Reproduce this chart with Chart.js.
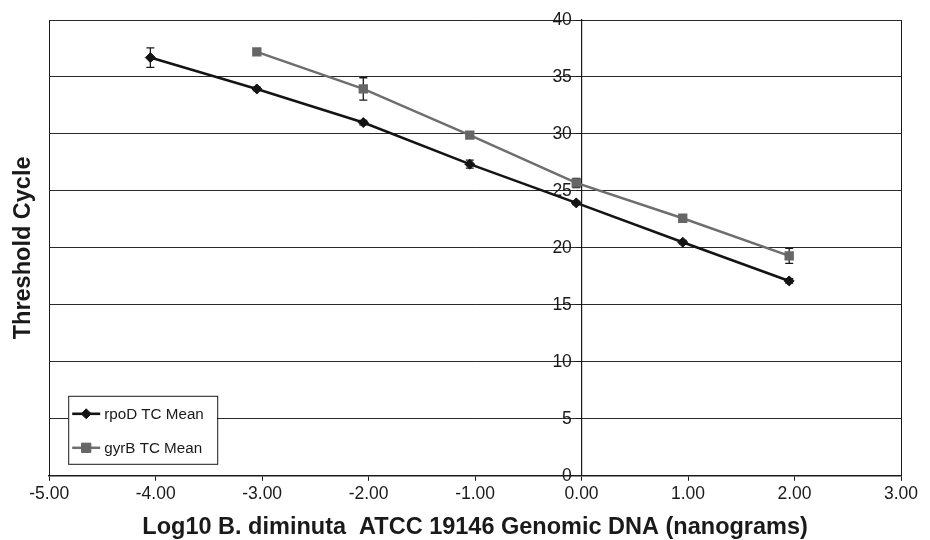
<!DOCTYPE html>
<html>
<head>
<meta charset="utf-8">
<script src="https://cdn.jsdelivr.net/npm/chart.js@4.4.0/dist/chart.umd.min.js"></script>
<style>
  html, body { margin: 0; padding: 0; background: #fff; }
</style>
</head>
<body>
<canvas id="tcChart" width="930" height="540"></canvas>
<script>
// valores
const logDna = [-4.05, -3.05, -2.05, -1.05, -0.05, 0.95, 1.95];
const rpoDMean = [36.7, 33.95, 31.0, 27.35, 23.95, 20.5, 17.1];
const rpoDErr = [0.85, 0.15, 0.2, 0.35, 0.15, 0.15, 0.2];
const gyrBDna = [-3.05, -2.05, -1.05, -0.05, 0.95, 1.95];
const gyrBMean = [37.2, 33.95, 29.9, 25.7, 22.6, 19.3];
const gyrBErr = [0.15, 0.98, 0.2, 0.4, 0.2, 0.65];
const xTicks = [-5, -4, -3, -2, -1, 0, 1, 2, 3];
const yTicks = [0, 5, 10, 15, 20, 25, 30, 35, 40];

const fontFamily = '"Liberation Sans", Arial, Helvetica, sans-serif';
const ink = '#1a1a1a';

const toPoints = (xs, ys) => xs.map((x, i) => ({ x: x, y: ys[i] }));

// barras de error, dibujadas con las escalas del gráfico
const errorBars = {
    id: 'errorBars',
    beforeDatasetsDraw(chart) {
        const ctx = chart.ctx;
        const xs = chart.scales.x;
        const ys = chart.scales.y;
        ctx.save();
        ctx.strokeStyle = ink;
        ctx.lineWidth = 1.3;
        chart.data.datasets.forEach(ds => {
            ds.data.forEach((p, i) => {
                const e = ds.errors[i];
                const px = xs.getPixelForValue(p.x);
                const top = ys.getPixelForValue(p.y + e);
                const bot = ys.getPixelForValue(p.y - e);
                ctx.beginPath();
                ctx.moveTo(px, top);
                ctx.lineTo(px, bot);
                ctx.moveTo(px - 4, top);
                ctx.lineTo(px + 4, top);
                ctx.moveTo(px - 4, bot);
                ctx.lineTo(px + 4, bot);
                ctx.stroke();
            });
        });
        ctx.restore();
    }
};

// leyenda dentro del área, abajo a la izquierda
const boxLegend = {
    id: 'boxLegend',
    afterDraw(chart) {
        const ctx = chart.ctx;
        const area = chart.chartArea;
        const left = area.left + 19;
        const top = area.bottom - 80;
        const w = 149, h = 68;
        ctx.save();
        ctx.fillStyle = '#fff';
        ctx.fillRect(left, top, w, h);
        ctx.strokeStyle = ink;
        ctx.lineWidth = 1;
        ctx.strokeRect(left + 0.5, top + 0.5, w, h);
        ctx.font = '15.2px ' + fontFamily;
        ctx.textBaseline = 'middle';
        chart.data.datasets.forEach((ds, i) => {
            const cy = top + 18 + i * 34;
            ctx.strokeStyle = ds.borderColor;
            ctx.lineWidth = ds.borderWidth;
            ctx.beginPath();
            ctx.moveTo(left + 4, cy);
            ctx.lineTo(left + 32, cy);
            ctx.stroke();
            ctx.fillStyle = ds.pointBackgroundColor;
            ctx.strokeStyle = ds.pointBorderColor;
            ctx.lineWidth = 1;
            Chart.helpers.drawPoint(ctx, { pointStyle: ds.pointStyle, radius: ds.pointRadius, borderWidth: 1 }, left + 18, cy);
            ctx.fillStyle = ink;
            ctx.fillText(ds.label, left + 36, cy + 1);
        });
        ctx.restore();
    }
};

const ctx = document.getElementById('tcChart').getContext('2d');
new Chart(ctx, {
    type: 'line',
    data: {
        datasets: [
            {
                label: 'rpoD TC Mean',
                data: toPoints(logDna, rpoDMean),
                errors: rpoDErr,
                borderColor: '#141414',
                borderWidth: 2.6,
                pointStyle: 'rectRot',
                pointRadius: 5,
                pointBackgroundColor: '#141414',
                pointBorderColor: '#141414',
                pointBorderWidth: 1,
                fill: false,
                tension: 0
            },
            {
                label: 'gyrB TC Mean',
                data: toPoints(gyrBDna, gyrBMean),
                errors: gyrBErr,
                borderColor: '#6e6e6e',
                borderWidth: 2.5,
                pointStyle: 'rect',
                pointRadius: 6.6,
                pointBackgroundColor: '#666666',
                pointBorderColor: '#666666',
                pointBorderWidth: 0,
                fill: false,
                tension: 0
            }
        ]
    },
    options: {
        responsive: false,
        animation: false,
        devicePixelRatio: 1,
        layout: { padding: { top: 20, right: 29, bottom: 0, left: 0 } },
        plugins: {
            legend: { display: false },
            tooltip: { enabled: false }
        },
        scales: {
            x: {
                type: 'linear',
                min: -5,
                max: 3,
                afterBuildTicks: axis => { axis.ticks = xTicks.map(v => ({ value: v })); },
                ticks: {
                    color: ink,
                    padding: 3,
                    maxRotation: 0,
                    autoSkip: false,
                    font: { family: fontFamily, size: 17.5 },
                    callback: v => Number(v).toFixed(2)
                },
                grid: {
                    color: c => (c.tick && (c.tick.value === -5 || c.tick.value === 3)) ? ink : 'rgba(0,0,0,0)',
                    tickColor: ink,
                    tickLength: 5,
                    lineWidth: 1
                },
                border: { color: ink, width: 1.5 },
                title: {
                    display: true,
                    text: 'Log10 B. diminuta  ATCC 19146 Genomic DNA (nanograms)',
                    color: ink,
                    font: { family: fontFamily, size: 23.5, weight: 'bold' },
                    padding: { top: 6, bottom: -2 }
                }
            },
            y: {
                type: 'linear',
                position: { x: 0 },
                min: 0,
                max: 40,
                afterBuildTicks: axis => { axis.ticks = yTicks.map(v => ({ value: v })); },
                ticks: {
                    color: ink,
                    padding: 3,
                    font: { family: fontFamily, size: 17.5 },
                    // el eje cruza en x = 0, los números van pegados a su izquierda
                    callback: v => v + '  '
                },
                grid: {
                    color: '#2a2a2a',
                    tickColor: ink,
                    tickLength: 5,
                    lineWidth: 1
                },
                border: { color: ink, width: 1.2 }
            },
            yTitle: {
                type: 'linear',
                position: 'left',
                min: 0,
                max: 40,
                ticks: { display: false },
                grid: { display: false, drawTicks: false },
                border: { display: false },
                title: {
                    display: true,
                    text: 'Threshold Cycle',
                    color: ink,
                    font: { family: fontFamily, size: 23.5, weight: 'bold' },
                    padding: { top: 9, bottom: 12 }
                }
            }
        }
    },
    plugins: [errorBars, boxLegend]
});
</script>
</body>
</html>
